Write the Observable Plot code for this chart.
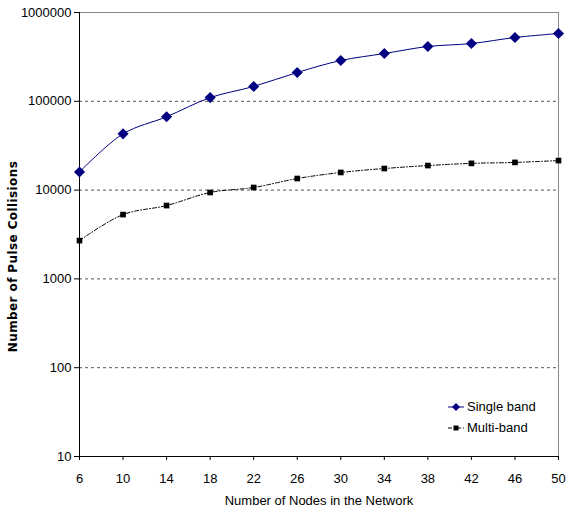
<!DOCTYPE html>
<html>
<head>
<meta charset="utf-8">
<script src="https://cdn.jsdelivr.net/npm/d3@7"></script>
<script src="https://cdn.jsdelivr.net/npm/@observablehq/plot@0.6"></script>
<style>
  html, body { margin: 0; padding: 0; background: #fff; }
  #wrap { position: relative; width: 566px; height: 515px; font-family: "Liberation Sans", Arial, sans-serif; }
  #legend { position: absolute; left: 448px; top: 396px; font-size: 13px; color: #000; line-height: 21px; }
  #legend div { display: flex; align-items: center; }
  #legend svg { margin-right: 3px; }
</style>
</head>
<body>
<div id="wrap">
  <div id="chart"></div>
  <div id="legend"></div>
</div>
<script>
const nodes = [6, 10, 14, 18, 22, 26, 30, 34, 38, 42, 46, 50];
const singleBand = [16000, 43000, 67000, 110000, 147000, 211000, 288000, 345000, 414000, 447000, 523000, 580000];
const multiBand = [2700, 5300, 6700, 9400, 10700, 13500, 15800, 17500, 18900, 20000, 20500, 21500];
const yTicks = [10, 100, 1000, 10000, 100000, 1000000];
const gridTicks = [100, 1000, 10000, 100000];
const seriesNames = ["Single band", "Multi-band"];

const single = nodes.map((n, i) => ({x: n, y: singleBand[i]}));
const multi = nodes.map((n, i) => ({x: n, y: multiBand[i]}));

const navy = "#000080";

const chart = Plot.plot({
  width: 566,
  height: 515,
  marginLeft: 79,
  marginRight: 8,
  marginTop: 12,
  marginBottom: 59,
  style: {fontFamily: "Liberation Sans, Arial, sans-serif", fontSize: "13px", color: "#000", background: "#fff"},
  x: {domain: [6, 50], ticks: nodes, label: null},
  y: {type: "log", domain: [10, 1000000], ticks: yTicks, label: null},
  marks: [
    Plot.ruleY(gridTicks, {stroke: "#555", strokeWidth: 1, strokeDasharray: "3,3"}),
    Plot.frame({anchor: "top", stroke: "#888"}),
    Plot.frame({anchor: "right", stroke: "#888"}),
    Plot.axisY({ticks: yTicks, tickFormat: d => String(d), tickSize: 5, tickPadding: 3, fontSize: 13, stroke: "#000"}),
    Plot.axisX({ticks: nodes, tickFormat: d => String(d), tickSize: 4, tickPadding: 13, fontSize: 13, stroke: "#000", label: null}),
    Plot.ruleX([6], {stroke: "#000", strokeWidth: 1}),
    Plot.ruleY([10], {stroke: "#000", strokeWidth: 1}),
    Plot.line(multi, {x: "x", y: "y", stroke: "#000", strokeWidth: 1, strokeDasharray: "4,2,1,2", curve: "catmull-rom"}),
    Plot.line(single, {x: "x", y: "y", stroke: navy, strokeWidth: 1, curve: "catmull-rom"}),
    Plot.dot(multi, {x: "x", y: "y", symbol: "square", r: 3.2, fill: "#000", stroke: "none"}),
    Plot.dot(single, {x: "x", y: "y", symbol: "diamond2", r: 5, fill: navy, stroke: "none"}),
    Plot.text(["Number of Nodes in the Network"], {frameAnchor: "bottom", dy: 48, fontSize: 13, fill: "#000"}),
    Plot.text(["Number of Pulse Collisions"], {frameAnchor: "left", textAnchor: "middle", dx: -66, dy: 22, rotate: -90, fontSize: 12, fontWeight: "bold", fontFamily: "DejaVu Sans, Verdana, sans-serif", fill: "#000"})
  ]
});
document.getElementById("chart").appendChild(chart);
d3.select(chart).selectAll("text").filter(function() { return this.textContent === "Number of Pulse Collisions"; }).style("letter-spacing", "0.4px");

const legend = document.getElementById("legend");
const sym = [
  `<svg width="16" height="10"><line x1="0" y1="5" x2="16" y2="5" stroke="${navy}" stroke-width="1"/><path d="M8,1 L12,5 L8,9 L4,5 Z" fill="${navy}"/></svg>`,
  `<svg width="16" height="10"><line x1="0" y1="5" x2="16" y2="5" stroke="#000" stroke-width="1" stroke-dasharray="4,2,1,2"/><rect x="5.5" y="2.5" width="5" height="5" fill="#000"/></svg>`
];
seriesNames.forEach((name, i) => {
  const row = document.createElement("div");
  row.innerHTML = sym[i] + `<span>${name}</span>`;
  legend.appendChild(row);
});
</script>
</body>
</html>
